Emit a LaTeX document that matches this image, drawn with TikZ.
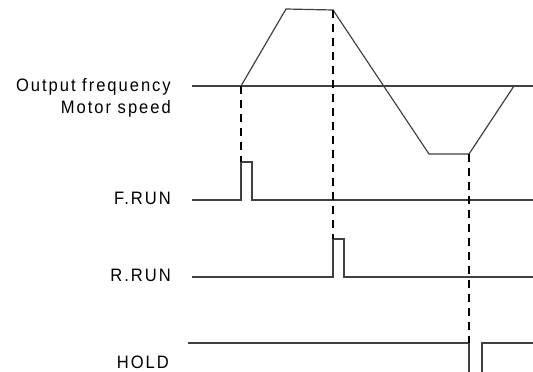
\documentclass[tikz,border=0pt]{standalone}
\usepackage{fontspec}
\setmainfont{Liberation Sans}[LetterSpace=11, FakeStretch=0.92]
\usetikzlibrary{calc}

\begin{document}
\begin{tikzpicture}[
  x=1pt, y=-1pt,
  font=\fontsize{18}{21}\selectfont,
  lbl/.style={anchor=base east, inner sep=0pt},
  wave/.style={draw=black!75, line width=1.2pt},
  guide/.style={draw=black, line width=1.8pt, dash pattern=on 8pt off 6pt}
]
\useasboundingbox (0,0) rectangle (533,372);

% labels
\node[lbl] (lblfreq) at (171,91.7) {Output frequency};
\node[lbl] (lblspeed) at (171,113.3) {Motor speed};
\node[lbl] (lblfrun) at (171,204.5) {F.RUN};
\node[lbl] (lblrrun) at (171,281.5) {R.RUN};
\node[lbl] (lblhold) at (169,368) {HOLD};

% output frequency
\coordinate (fstart) at (241,86);
\coordinate (ftop1) at (286,9);
\coordinate (ftop2) at (333,10);
\coordinate (fbot1) at (429,154);
\coordinate (fbot2) at (469,154);
\coordinate (fend) at (514,86);
\draw[wave] (192,86) -- (533,86);
\draw[wave] (fstart) -- (ftop1) -- (ftop2) -- (fbot1) -- (fbot2) -- (fend);

% F.RUN
\coordinate (frun) at (241,162);
\draw[wave] (192,200) -- (241,200) -- (frun) -- (252,162) -- (252,200) -- (533,200);

% R.RUN
\coordinate (rrun) at (333,239);
\draw[wave] (192,277) -- (333,277) -- (rrun) -- (344,239) -- (344,277) -- (533,277);

% HOLD
\coordinate (hold) at (469,343);
\draw[wave] (188,343) -- (hold) -- (469,372);
\draw[wave] (482,372) -- (482,343) -- (533,343);

% timing guides
\draw[guide] (fstart) -- (frun);
\draw[guide] (ftop2) -- (rrun);
\draw[guide] (fbot2) -- (hold);
\end{tikzpicture}
\end{document}
